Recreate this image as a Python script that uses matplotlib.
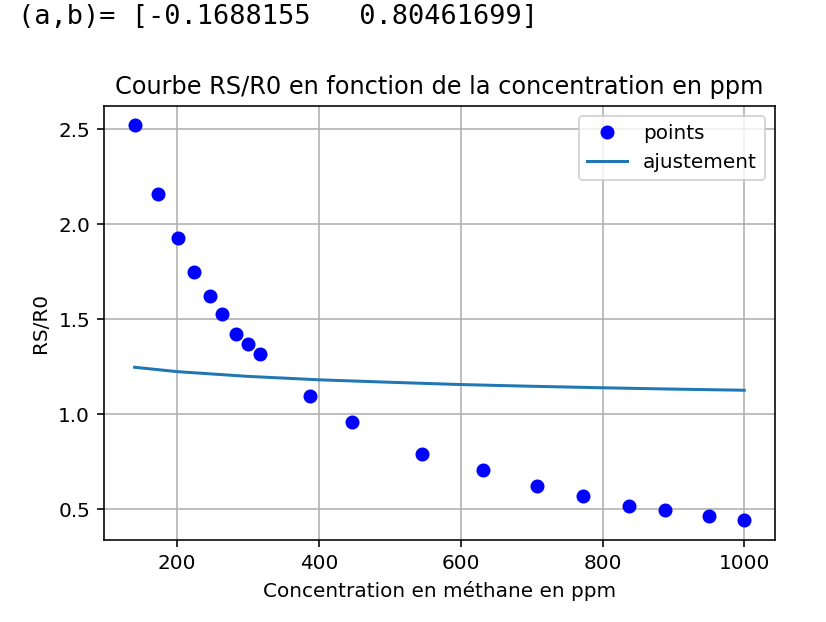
import matplotlib
matplotlib.use("Agg")
import matplotlib.pyplot as plt

concentration = [140, 173, 201, 224, 246, 263, 283, 300, 317, 387, 446, 545, 632, 708, 773, 838, 888, 950, 1000]
rs_r0 = [2.52, 2.16, 1.925, 1.747, 1.621, 1.526, 1.421, 1.368, 1.316, 1.095, 0.958, 0.789, 0.705,
         0.621, 0.568, 0.516, 0.495, 0.463, 0.442]

# Courbe d'ajustement
fit_x = [140, 200, 300, 400, 500, 600, 700, 800, 900, 1000]
fit_y = [1.247, 1.224, 1.199, 1.181, 1.168, 1.156, 1.147, 1.139, 1.132, 1.126]

params_text = "(a,b)= [-0.1688155   0.80461699]"

fig = plt.figure(figsize=(826/144, 622/144), dpi=144)
ax = fig.add_axes([0.126, 0.132, 0.812, 0.698])

fig.text(0.022, 0.972, params_text, family="DejaVu Sans Mono", fontsize=13.5, va="center", ha="left")

ax.plot(concentration, rs_r0, "bo", label="points")
ax.plot(fit_x, fit_y, color="C0", label="ajustement")

ax.set_title("Courbe RS/R0 en fonction de la concentration en ppm")
ax.set_xlabel("Concentration en méthane en ppm")
ax.set_ylabel("RS/R0")
ax.grid(True)
ax.legend(loc="upper right")

fig.savefig("out.png", dpi=144)
